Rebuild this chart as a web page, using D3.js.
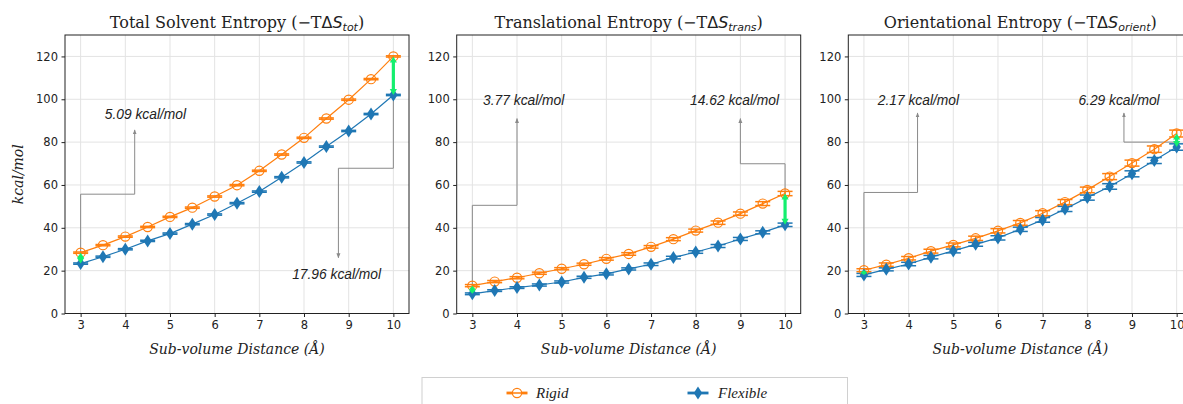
<!DOCTYPE html>
<html>
<head>
<meta charset="utf-8">
<script src="https://cdn.jsdelivr.net/npm/d3@7"></script>
<style>
  body { margin: 0; background: #fff; }
  svg { display: block; }
</style>
</head>
<body>
<div id="viz"></div>
<script>
// sub-volume distances (Å)
var distances = [3, 3.5, 4, 4.5, 5, 5.5, 6, 6.5, 7, 7.5, 8, 8.5, 9, 9.5, 10];
var xTicks = [3, 4, 5, 6, 7, 8, 9, 10];
var yTicks = [0, 20, 40, 60, 80, 100, 120];

// total solvent entropy
var totRigid = [28.4, 31.9, 35.9, 40.4, 45.1, 49.4, 54.6, 59.9, 66.6, 74.2, 82.0, 91.0, 99.8, 109.4, 120.0];
var totFlex  = [23.3, 26.5, 30.0, 33.9, 37.3, 41.7, 46.2, 51.5, 56.9, 63.6, 70.5, 77.9, 85.2, 93.1, 102.0];
var totRigidErr = [0.3, 0.3, 0.3, 0.3, 0.3, 0.3, 0.3, 0.3, 0.3, 0.3, 0.3, 0.3, 0.3, 0.3, 0.3];
var totFlexErr  = [0.3, 0.3, 0.3, 0.3, 0.3, 0.3, 0.3, 0.3, 0.3, 0.3, 0.3, 0.3, 0.3, 0.3, 0.3];

// translational entropy
var transRigid = [13.0, 14.9, 16.7, 18.8, 20.9, 23.0, 25.5, 27.8, 31.1, 34.7, 38.7, 42.4, 46.6, 51.3, 56.0];
var transFlex  = [9.2, 10.7, 12.1, 13.3, 14.7, 16.9, 18.5, 20.8, 23.0, 26.1, 28.7, 31.5, 34.8, 37.9, 41.4];
var transRigidErr = [0.5, 0.5, 0.5, 0.5, 0.5, 0.5, 0.6, 0.6, 0.6, 0.7, 0.7, 0.8, 0.8, 0.9, 1.0];
var transFlexErr  = [0.4, 0.4, 0.4, 0.5, 0.5, 0.5, 0.5, 0.5, 0.6, 0.6, 0.6, 0.7, 0.7, 0.7, 0.8];

// orientational entropy
var orientRigid = [20.2, 22.8, 25.8, 29.1, 32.0, 35.1, 38.6, 42.3, 46.8, 52.0, 57.7, 63.9, 70.2, 76.7, 84.0];
var orientFlex  = [18.0, 20.6, 23.1, 26.3, 29.2, 32.3, 35.3, 39.3, 43.7, 48.8, 54.1, 59.3, 65.2, 71.4, 77.7];
var orientRigidErr = [0.7, 0.8, 0.8, 0.9, 0.9, 1.0, 1.0, 1.1, 1.2, 1.2, 1.3, 1.4, 1.4, 1.5, 1.6];
var orientFlexErr  = [0.7, 0.7, 0.8, 0.8, 0.9, 0.9, 1.0, 1.0, 1.1, 1.2, 1.2, 1.3, 1.4, 1.4, 1.5];

var titles = [
  { main: 'Total Solvent Entropy', sub: 'tot' },
  { main: 'Translational Entropy', sub: 'trans' },
  { main: 'Orientational Entropy', sub: 'orient' }
];

// annotation text + elbow path in data units (path starts at a data point, arrow head at the end)
var annotations = [
  [ { text: '5.09 kcal/mol', at: [4.45, 93], path: [[3, 28.4], [3, 55.7], [4.21, 55.7], [4.21, 85.7]] },
    { text: '17.96 kcal/mol', at: [8.73, 18.5], path: [[10, 102], [10, 67.8], [8.77, 67.8], [8.77, 26]] } ],
  [ { text: '3.77 kcal/mol', at: [4.15, 99.6], path: [[3, 13], [3, 50.5], [4.0, 50.5], [4.0, 91]] },
    { text: '14.62 kcal/mol', at: [8.87, 99.6], path: [[10, 56], [10, 69.9], [9.0, 69.9], [9.0, 91]] } ],
  [ { text: '2.17 kcal/mol', at: [4.22, 99.6], path: [[3, 20.2], [3, 56.5], [4.2, 56.5], [4.2, 93.6]] },
    { text: '6.29 kcal/mol', at: [8.71, 99.6], path: [[10, 84], [10, 80], [8.82, 80], [8.82, 93.6]] } ]
];

var panels = [
  { rigid: totRigid, flex: totFlex, rErr: totRigidErr, fErr: totFlexErr },
  { rigid: transRigid, flex: transFlex, rErr: transRigidErr, fErr: transFlexErr },
  { rigid: orientRigid, flex: orientFlex, rErr: orientRigidErr, fErr: orientFlexErr }
];

var orange = '#ff7f0e',
    blue = '#1f77b4',
    green = '#14ef6e',
    gray = '#8a8a8a';

var W = 1183, H = 404,
    panelLefts = [65, 456.7, 848.3],
    pw = 344,
    plotTop = 35, plotBottom = 313.5;

var svg = d3.select('#viz').append('svg')
    .attr('width', W)
    .attr('height', H);

var defs = svg.append('defs');
defs.append('marker')
    .attr('id', 'grayHead')
    .attr('viewBox', '0 0 10 10')
    .attr('refX', 9).attr('refY', 5)
    .attr('markerWidth', 5).attr('markerHeight', 5)
    .attr('markerUnits', 'userSpaceOnUse')
    .attr('orient', 'auto')
  .append('path')
    .attr('d', 'M0,1 L10,5 L0,9 Z')
    .attr('fill', gray);

var ph = plotBottom - plotTop;
var x = d3.scaleLinear().domain([2.65, 10.35]).range([0, pw]);
var y = d3.scaleLinear().domain([0, 130]).range([ph, 0]);

function diamond(cx, cy) {
  return 'M' + cx + ',' + (cy - 6.5) + 'L' + (cx + 4.2) + ',' + cy +
         'L' + cx + ',' + (cy + 6.5) + 'L' + (cx - 4.2) + ',' + cy + 'Z';
}

function greenArrow(g, xv, y0, y1) {
  var px = x(xv), a = y(y0), b = y(y1);
  var hl = Math.min(6, Math.abs(a - b) / 2);
  var sgn = a > b ? 1 : -1;
  g.append('line')
    .attr('x1', px).attr('x2', px)
    .attr('y1', a - sgn * hl + sgn * 0.5).attr('y2', b + sgn * hl - sgn * 0.5)
    .attr('stroke', green).attr('stroke-width', 3.2);
  g.append('path')
    .attr('d', 'M' + px + ',' + b + 'L' + (px - 3.6) + ',' + (b + sgn * hl) + 'L' + (px + 3.6) + ',' + (b + sgn * hl) + 'Z')
    .attr('fill', green);
  g.append('path')
    .attr('d', 'M' + px + ',' + a + 'L' + (px - 3.6) + ',' + (a - sgn * hl) + 'L' + (px + 3.6) + ',' + (a - sgn * hl) + 'Z')
    .attr('fill', green);
}

panels.forEach(function(p, k) {
  var g = svg.append('g')
      .attr('transform', 'translate(' + panelLefts[k] + ',' + plotTop + ')');

  // grid
  g.append('g').selectAll('line').data(xTicks).enter().append('line')
    .attr('x1', function(d) { return x(d); }).attr('x2', function(d) { return x(d); })
    .attr('y1', 0).attr('y2', ph)
    .attr('stroke', '#e3e3e3').attr('stroke-width', 1);
  g.append('g').selectAll('line').data(yTicks).enter().append('line')
    .attr('x1', 0).attr('x2', pw)
    .attr('y1', function(d) { return y(d); }).attr('y2', function(d) { return y(d); })
    .attr('stroke', '#e3e3e3').attr('stroke-width', 1);

  // annotations (gray elbow arrows)
  annotations[k].forEach(function(a) {
    g.append('path')
      .attr('d', d3.line().x(function(d) { return x(d[0]); }).y(function(d) { return y(d[1]); })(a.path))
      .attr('fill', 'none')
      .attr('stroke', gray).attr('stroke-width', 1)
      .attr('marker-end', 'url(#grayHead)');
    g.append('text')
      .attr('x', x(a.at[0])).attr('y', y(a.at[1]))
      .attr('dy', '0.35em')
      .attr('text-anchor', 'middle')
      .attr('font-family', 'Liberation Sans, Arial, sans-serif')
      .attr('font-style', 'italic')
      .attr('font-size', 13.8)
      .attr('fill', '#222')
      .text(a.text);
  });

  var line = d3.line()
    .x(function(d, i) { return x(distances[i]); })
    .y(function(d) { return y(d); });

  // series
  [{ v: p.rigid, e: p.rErr, c: orange }, { v: p.flex, e: p.fErr, c: blue }].forEach(function(s) {
    g.append('path').datum(s.v)
      .attr('d', line)
      .attr('fill', 'none').attr('stroke', s.c).attr('stroke-width', 1.2);
    var eb = g.append('g').selectAll('g').data(s.v).enter().append('g');
    eb.append('line')
      .attr('x1', function(d, i) { return x(distances[i]); })
      .attr('x2', function(d, i) { return x(distances[i]); })
      .attr('y1', function(d, i) { return y(d - s.e[i]); })
      .attr('y2', function(d, i) { return y(d + s.e[i]); })
      .attr('stroke', s.c).attr('stroke-width', 1.5);
    [-1, 1].forEach(function(sg) {
      eb.append('line')
        .attr('x1', function(d, i) { return x(distances[i]) - 7.5; })
        .attr('x2', function(d, i) { return x(distances[i]) + 7.5; })
        .attr('y1', function(d, i) { return y(d + sg * s.e[i]); })
        .attr('y2', function(d, i) { return y(d + sg * s.e[i]); })
        .attr('stroke', s.c).attr('stroke-width', 1.5);
    });
  });

  // markers
  g.append('g').selectAll('circle').data(p.rigid).enter().append('circle')
    .attr('cx', function(d, i) { return x(distances[i]); })
    .attr('cy', function(d) { return y(d); })
    .attr('r', 4.6)
    .attr('fill', 'none').attr('stroke', orange).attr('stroke-width', 1.2);
  g.append('g').selectAll('path').data(p.flex).enter().append('path')
    .attr('d', function(d, i) { return diamond(x(distances[i]), y(d)); })
    .attr('fill', blue);

  // green difference arrows
  greenArrow(g, 3, p.flex[0], p.rigid[0]);
  greenArrow(g, 10, p.flex[14], p.rigid[14]);

  // frame
  g.append('rect')
    .attr('x', 0).attr('y', 0).attr('width', pw).attr('height', ph)
    .attr('fill', 'none').attr('stroke', '#222').attr('stroke-width', 1);

  // axes
  var xa = g.append('g')
    .attr('transform', 'translate(0,' + ph + ')')
    .call(d3.axisBottom(x).tickValues(xTicks).tickSize(3.5).tickPadding(3.5).tickFormat(d3.format('d')));
  var ya = g.append('g')
    .call(d3.axisLeft(y).tickValues(yTicks).tickSize(3.5).tickPadding(3.5));
  [xa, ya].forEach(function(a) {
    a.select('.domain').remove();
    a.selectAll('line').attr('stroke', '#222');
    a.selectAll('text')
      .attr('font-family', 'DejaVu Sans, sans-serif')
      .attr('font-size', 11.5)
      .attr('fill', '#222');
  });

  // x label
  g.append('text')
    .attr('x', pw / 2).attr('y', ph + 40)
    .attr('text-anchor', 'middle')
    .attr('font-family', 'DejaVu Serif, serif')
    .attr('font-style', 'italic')
    .attr('font-size', 14)
    .attr('fill', '#222')
    .text('Sub-volume Distance (Å)');

  // title
  var t = g.append('text')
    .attr('x', pw / 2).attr('y', -7)
    .attr('text-anchor', 'middle')
    .attr('font-family', 'DejaVu Serif, serif')
    .attr('font-size', 16)
    .attr('fill', '#222');
  t.append('tspan').text(titles[k].main + ' (\u2212T');
  t.append('tspan').attr('font-family', 'DejaVu Sans, sans-serif').text('\u0394');
  t.append('tspan').attr('font-family', 'DejaVu Sans, sans-serif').attr('font-style', 'italic').text('S');
  t.append('tspan').attr('font-family', 'DejaVu Sans, sans-serif').attr('font-style', 'italic')
    .attr('font-size', 11).attr('dy', 3).text(titles[k].sub);
  t.append('tspan').attr('dy', -3).text(')');
});

// y label
svg.append('text')
  .attr('transform', 'translate(23,' + ((plotTop + plotBottom) / 2) + ') rotate(-90)')
  .attr('text-anchor', 'middle')
  .attr('font-family', 'DejaVu Serif, serif')
  .attr('font-style', 'italic')
  .attr('font-size', 14)
  .attr('fill', '#222')
  .text('kcal/mol');

// legend
var leg = svg.append('g');
leg.append('rect')
  .attr('x', 422).attr('y', 377.5).attr('width', 425.5).attr('height', 40)
  .attr('fill', '#fff').attr('stroke', '#d0d0d0').attr('stroke-width', 1);
var legItems = [
  { name: 'Rigid', c: orange, cx: 517, tx: 536 },
  { name: 'Flexible', c: blue, cx: 698, tx: 718 }
];
legItems.forEach(function(d) {
  var ly = 393;
  leg.append('line')
    .attr('x1', d.cx - 10.5).attr('x2', d.cx + 10.5)
    .attr('y1', ly).attr('y2', ly)
    .attr('stroke', d.c).attr('stroke-width', 2.8);
  if (d.name === 'Rigid') {
    leg.append('circle').attr('cx', d.cx).attr('cy', ly).attr('r', 4.6)
      .attr('fill', '#fff').attr('stroke', d.c).attr('stroke-width', 1.2);
    leg.append('line').attr('x1', d.cx - 4.6).attr('x2', d.cx + 4.6)
      .attr('y1', ly).attr('y2', ly).attr('stroke', d.c).attr('stroke-width', 1.5);
  } else {
    leg.append('path').attr('d', diamond(d.cx, ly)).attr('fill', d.c);
  }
  leg.append('text')
    .attr('x', d.tx).attr('y', ly).attr('dy', '0.35em')
    .attr('font-family', 'Liberation Serif, Times New Roman, serif')
    .attr('font-style', 'italic')
    .attr('font-size', 15)
    .attr('fill', '#222')
    .text(d.name);
});
</script>
</body>
</html>
